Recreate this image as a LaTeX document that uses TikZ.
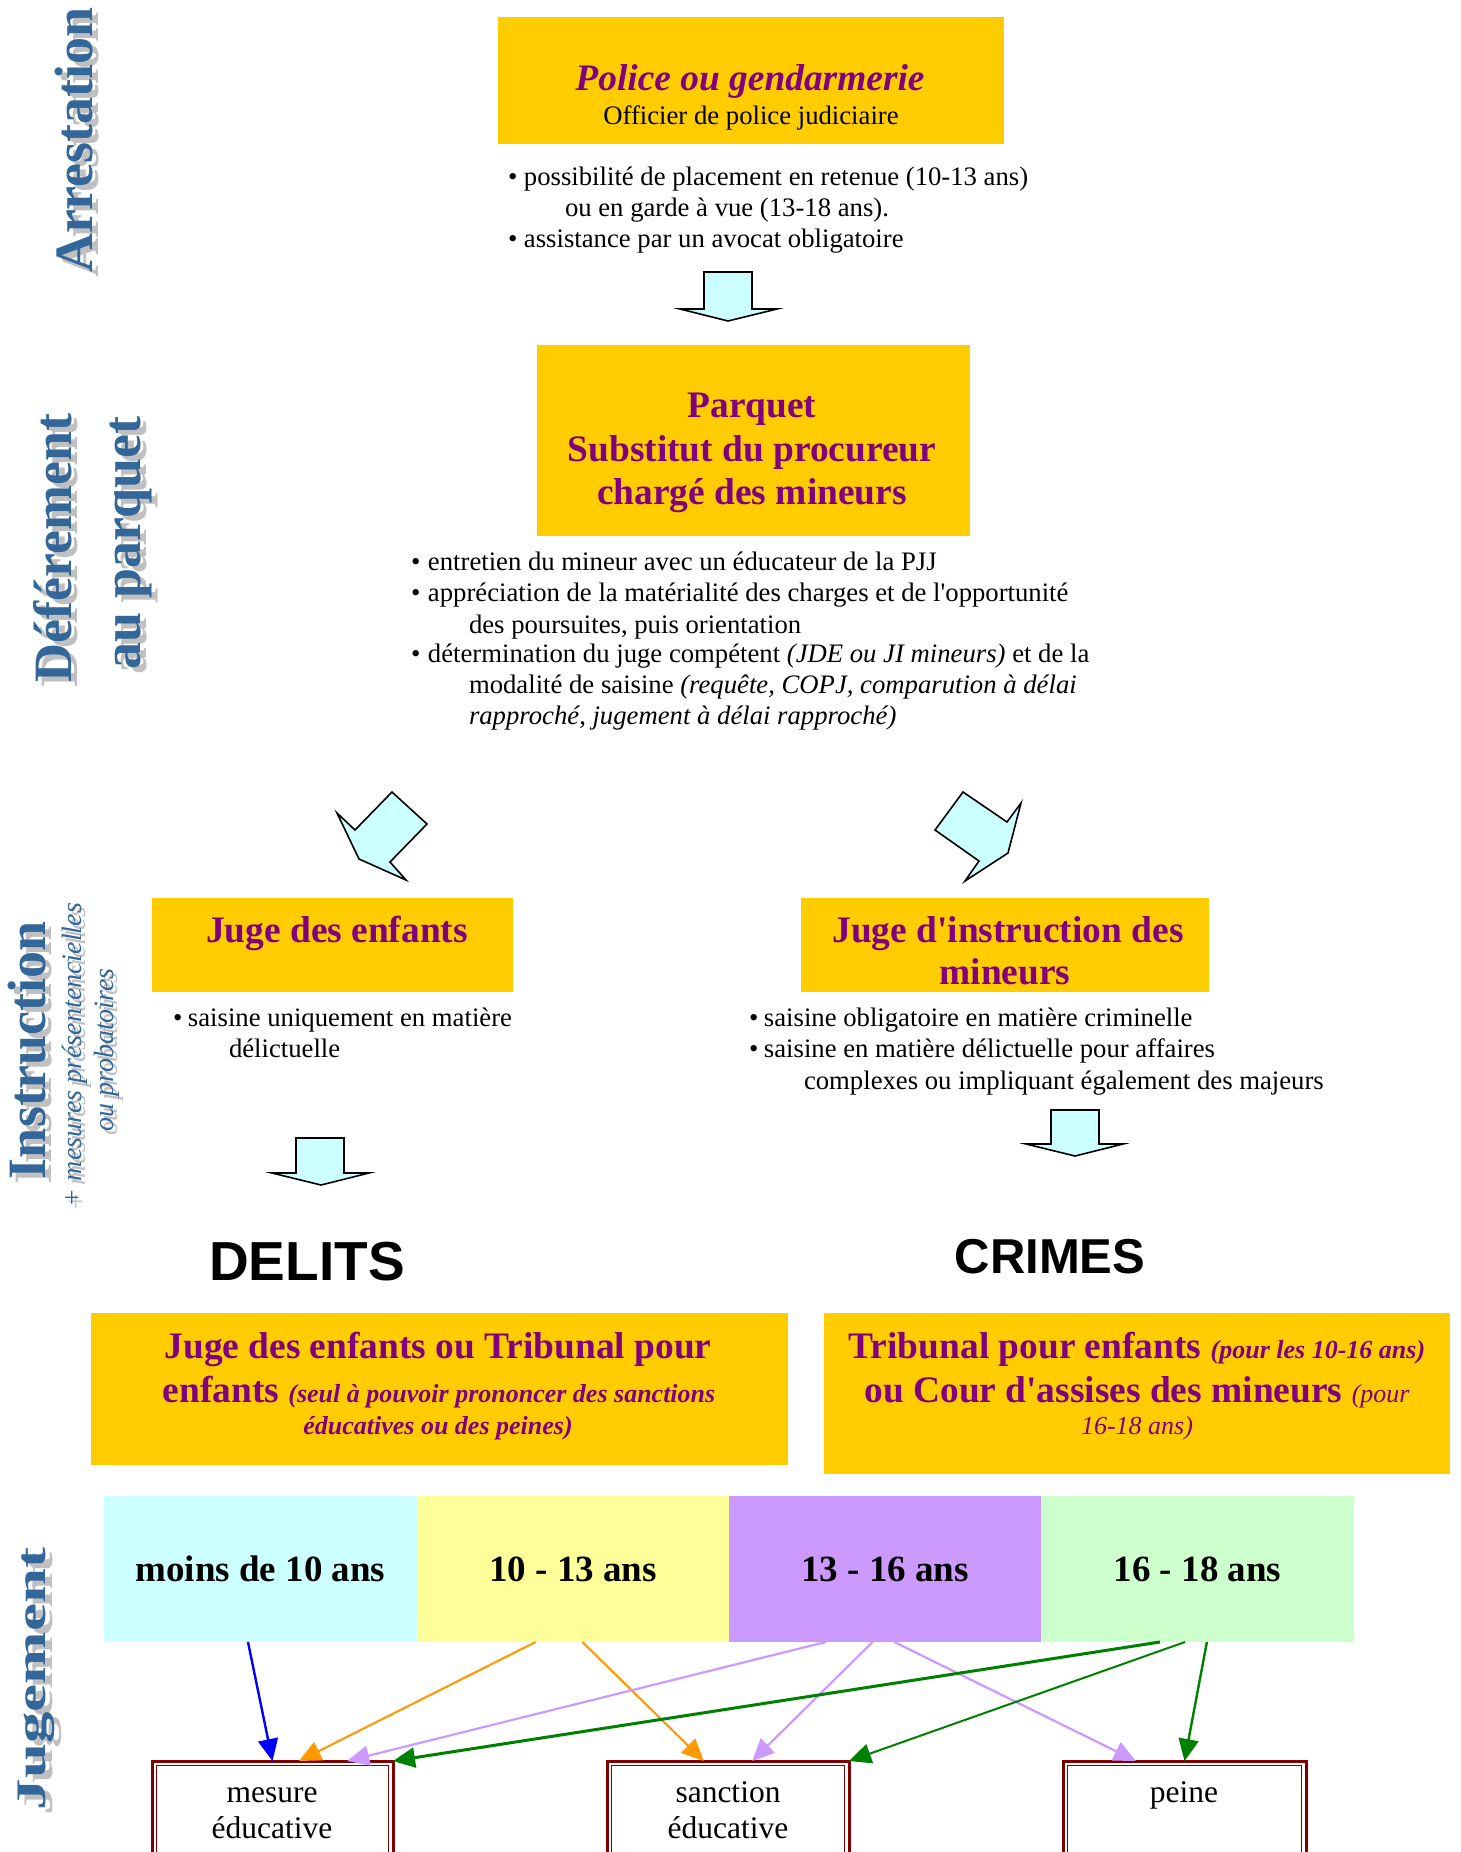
\documentclass[tikz,border=0pt]{standalone}
\usepackage{fontspec}
\setmainfont{Liberation Serif}
\newfontfamily\mySans{Liberation Sans}
\usetikzlibrary{calc,arrows.meta}
\definecolor{gold}{HTML}{FFCC00}
\definecolor{purp}{HTML}{800080}
\definecolor{lcyan}{HTML}{CCFFFF}
\definecolor{lyellow}{HTML}{FFFF99}
\definecolor{lviolet}{HTML}{CC99FF}
\definecolor{lgreen}{HTML}{CCFFCC}
\definecolor{sideblue}{HTML}{336699}
\definecolor{shadowgray}{HTML}{C0C0C0}
\definecolor{darkred}{HTML}{800000}
\definecolor{aorange}{HTML}{FF9900}
\definecolor{aviolet}{HTML}{CC99FF}
\definecolor{agreen}{HTML}{008000}
\newcommand\myBody{\fontsize{13.35pt}{15.4pt}\selectfont}
\newcommand\myTtl{\fontsize{18.7pt}{22pt}\selectfont\bfseries}
\newcommand\mySBI{\fontsize{13pt}{15pt}\selectfont\bfseries\itshape}
\newcommand\mySIt{\fontsize{13pt}{15pt}\selectfont\mdseries\itshape}
\newcommand\myAge{\fontsize{18.5pt}{22pt}\selectfont\bfseries}
\newcommand\myOut{\fontsize{15.75pt}{18pt}\selectfont}
\newcommand\mySide{\fontsize{27pt}{30pt}\selectfont\bfseries}
\newcommand\mySideSm{\fontsize{14pt}{16pt}\selectfont\itshape}
\newcommand\myBul[1]{\makebox[#1][l]{\textbullet}}
\tikzset{
  every node/.style={inner sep=0pt, outer sep=0pt},
  goldbox/.style={fill=gold, draw=none},
  txt/.style={anchor=base, font=\myBody},
  lft/.style={anchor=base west, font=\myBody},
  ttl/.style={anchor=base, font=\myTtl, text=purp},
  blockarrow/.style={fill=lcyan, draw=black, line width=0.8pt, line join=miter},
  agebox/.style={draw=none, minimum height=73pt, font=\myAge},
  outbox/.style={draw=darkred, line width=1.5pt, fill=white, minimum height=80pt},
  innerline/.style={draw=darkred, line width=0.5pt},
  conn/.style={-{Triangle[length=11pt,width=10pt]}, line width=1pt},
  sidelbl/.style={rotate=90, anchor=base, font=\mySide, text=sideblue},
  sideshd/.style={rotate=90, anchor=base, font=\mySide, text=shadowgray},
  sidesm/.style={rotate=90, anchor=base, font=\mySideSm, text=sideblue},
  sidesmshd/.style={rotate=90, anchor=base, font=\mySideSm, text=shadowgray},
}
\begin{document}
\begin{tikzpicture}[x=0.5pt,y=-0.5pt]
\useasboundingbox (0,0) rectangle (1461,1852);
\clip (0,0) rectangle (1461,1852);

% ---------- side labels ----------
\node[sideshd] (arrS) at (98,145) {Arrestation};
\node[sidelbl] (arr) at (92,140) {Arrestation};
\node[sideshd] (defS) at (77,553) {Déférement};
\node[sidelbl] (def) at (71,548) {Déférement};
\node[sideshd] (parqS) at (146,548) {au parquet};
\node[sidelbl] (parq) at (140,543) {au parquet};
\node[sideshd] (insS) at (51,1055) {Instruction};
\node[sidelbl] (ins) at (45,1050) {Instruction};
\node[sidesmshd] (mesS) at (85,1059) {+ mesures présentencielles};
\node[sidesm] (mes) at (81,1055) {+ mesures présentencielles};
\node[sidesmshd] (probS) at (117,1054) {ou probatoires};
\node[sidesm] (prob) at (113,1050) {ou probatoires};
\node[sideshd] (jugS) at (52,1684) {\scalebox{1.5}[1]{\fontsize{21pt}{24pt}\selectfont Jugement}};
\node[sidelbl] (jug) at (46,1679) {\scalebox{1.5}[1]{\fontsize{21pt}{24pt}\selectfont Jugement}};

% ---------- police ----------
\node[goldbox, minimum width=253pt, minimum height=63.5pt] (police) at (751,80.5) {};
\node[ttl, font=\myTtl\itshape] (policeT) at (750,90) {Police ou gendarmerie};
\node[txt] (policeS) at (751,124) {Officier de police judiciaire};
\node[lft] (pb1) at (508,185) {\myBul{8pt}possibilité de placement en retenue (10-13 ans)};
\node[lft] (pb2) at (565,216) {ou en garde à vue (13-18 ans).};
\node[lft] (pb3) at (508,247) {\myBul{8pt}assistance par un avocat obligatoire};

\draw[blockarrow] (704,272) -- (752,272) -- (752,309) -- (777,309) -- (728,321) -- (680,309) -- (704,309) -- cycle;

% ---------- parquet ----------
\node[goldbox, minimum width=216.5pt, minimum height=95.5pt] (parquet) at (753.5,440.5) {};
\node[ttl] (parqT1) at (752,417) {Parquet};
\node[ttl] (parqT2) at (752,461) {Substitut du procureur};
\node[ttl] (parqT3) at (752,504) {chargé des mineurs};
\node[lft] (qb1) at (411,570) {\myBul{8.5pt}entretien du mineur avec un éducateur de la PJJ};
\node[lft] (qb2) at (411,601) {\myBul{8.5pt}appréciation de la matérialité des charges et de l\textquotesingle opportunité};
\node[lft] (qb3) at (469,633) {des poursuites, puis orientation};
\node[lft] (qb4) at (411,662) {\myBul{8.5pt}détermination du juge compétent \textit{(JDE ou JI mineurs)} et de la};
\node[lft] (qb5) at (469,693) {modalité de saisine \textit{(requête, COPJ, comparution à délai}};
\node[lft] (qb6) at (469,724) {\textit{rapproché, jugement à délai rapproché)}};

\draw[blockarrow] (392,792) -- (427,824) -- (390,862) -- (406,880) -- (359,859) -- (337,813) -- (355,830) -- cycle;
\draw[blockarrow] (963,792) -- (1007,822) -- (1021,803) -- (1008,853) -- (965,881) -- (979,861) -- (935,830) -- cycle;

% ---------- instruction ----------
\node[goldbox, minimum width=180.5pt, minimum height=47pt] (jde) at (332.5,945) {};
\node[ttl] (jdeT) at (337,942) {Juge des enfants};
\node[goldbox, minimum width=204pt, minimum height=47pt] (ji) at (1005,945) {};
\node[ttl] (jiT1) at (1008,942) {Juge d\textquotesingle instruction des};
\node[ttl] (jiT2) at (1005,984) {mineurs};
\node[lft] (lb1) at (173,1026) {\myBul{7.5pt}saisine uniquement en matière};
\node[lft] (lb2) at (229,1057) {délictuelle};
\node[lft] (rb1) at (749,1026) {\myBul{7.5pt}saisine obligatoire en matière criminelle};
\node[lft] (rb2) at (749,1057) {\myBul{7.5pt}saisine en matière délictuelle pour affaires};
\node[lft] (rb3) at (804,1089) {complexes ou impliquant également des majeurs};

\draw[blockarrow] (296,1138) -- (344,1138) -- (344,1173) -- (369,1173) -- (321,1185) -- (272,1173) -- (296,1173) -- cycle;
\draw[blockarrow] (1051,1110) -- (1099,1110) -- (1099,1144) -- (1123,1144) -- (1075,1156) -- (1026,1144) -- (1051,1144) -- cycle;

% ---------- jugement ----------
\node[anchor=base, font=\fontsize{27.5pt}{30pt}\selectfont\mySans\bfseries] (delits) at (307,1280) {DELITS};
\node[anchor=base, font=\fontsize{24.5pt}{28pt}\selectfont\mySans\bfseries] (crimes) at (1050,1273) {CRIMES};

\node[goldbox, minimum width=348.5pt, minimum height=76pt] (jugL) at (439.5,1389) {};
\node[ttl] (jugL1) at (438,1358) {Juge des enfants ou Tribunal pour};
\node[ttl] (jugL2) at (439,1402) {enfants {\mySBI (seul à pouvoir prononcer des sanctions}};
\node[ttl] (jugL3) at (438,1434) {\mySBI éducatives ou des peines)};

\node[goldbox, minimum width=313pt, minimum height=80.5pt] (jugR) at (1137,1393.5) {};
\node[ttl] (jugR1) at (1137,1358) {Tribunal pour enfants {\mySBI (pour les 10-16 ans)}};
\node[ttl] (jugR2) at (1137,1402) {ou Cour d\textquotesingle assises des mineurs {\mySIt (pour}};
\node[ttl] (jugR3) at (1137,1434) {\mySIt 16-18 ans)};

\node[agebox, fill=lcyan, minimum width=156.5pt] (age1) at (260.5,1569) {\raisebox{-3pt}{moins de 10 ans}};
\node[agebox, fill=lyellow, minimum width=156pt] (age2) at (573,1569) {10 - 13 ans};
\node[agebox, fill=lviolet, minimum width=156pt] (age3) at (885,1569) {13 - 16 ans};
\node[agebox, fill=lgreen, minimum width=156.5pt] (age4) at (1197.5,1569) {16 - 18 ans};

\node[outbox, minimum width=120.5pt] (mesure) at (272.5,1841) {};
\draw[innerline] ([shift={(2.2pt,-2.2pt)}]mesure.north west) rectangle ([shift={(-2.2pt,2.2pt)}]mesure.south east);
\node[txt, font=\myOut] (mesT1) at (272,1802) {mesure};
\node[txt, font=\myOut] (mesT2) at (272,1838) {éducative};
\node[outbox, minimum width=121pt] (sanction) at (728,1841) {};
\draw[innerline] ([shift={(2.2pt,-2.2pt)}]sanction.north west) rectangle ([shift={(-2.2pt,2.2pt)}]sanction.south east);
\node[txt, font=\myOut] (sanT1) at (728,1802) {sanction};
\node[txt, font=\myOut] (sanT2) at (728,1838) {éducative};
\node[outbox, minimum width=121.5pt] (peine) at (1184.5,1841) {};
\draw[innerline] ([shift={(2.2pt,-2.2pt)}]peine.north west) rectangle ([shift={(-2.2pt,2.2pt)}]peine.south east);
\node[txt, font=\myOut] (peiT) at (1184,1802) {peine};

% ---------- connectors ----------
\draw[conn, blue, line width=1.2pt] ($(age1.south west)!0.46!(age1.south east)$) -- ($(mesure.north west)!0.50!(mesure.north east)$);
\draw[conn, aorange, line width=1.05pt] ($(age2.south west)!0.38!(age2.south east)$) -- ($(mesure.north west)!0.61!(mesure.north east)$);
\draw[conn, aorange, line width=1.05pt] ($(age2.south west)!0.53!(age2.south east)$) -- ($(sanction.north west)!0.40!(sanction.north east)$);
\draw[conn, aviolet, line width=1.1pt] ($(age3.south west)!0.31!(age3.south east)$) -- ($(mesure.north west)!0.81!(mesure.north east)$);
\draw[conn, aviolet, line width=1.1pt] ($(age3.south west)!0.46!(age3.south east)$) -- ($(sanction.north west)!0.60!(sanction.north east)$);
\draw[conn, aviolet, line width=1.1pt] ($(age3.south west)!0.53!(age3.south east)$) -- ($(peine.north west)!0.30!(peine.north east)$);
\draw[conn, agreen, line width=1.5pt] ($(age4.south west)!0.38!(age4.south east)$) -- (mesure.north east);
\draw[conn, agreen, line width=1pt] ($(age4.south west)!0.46!(age4.south east)$) -- (sanction.north east);
\draw[conn, agreen, line width=1.2pt] ($(age4.south west)!0.53!(age4.south east)$) -- ($(peine.north west)!0.50!(peine.north east)$);
\end{tikzpicture}
\end{document}
